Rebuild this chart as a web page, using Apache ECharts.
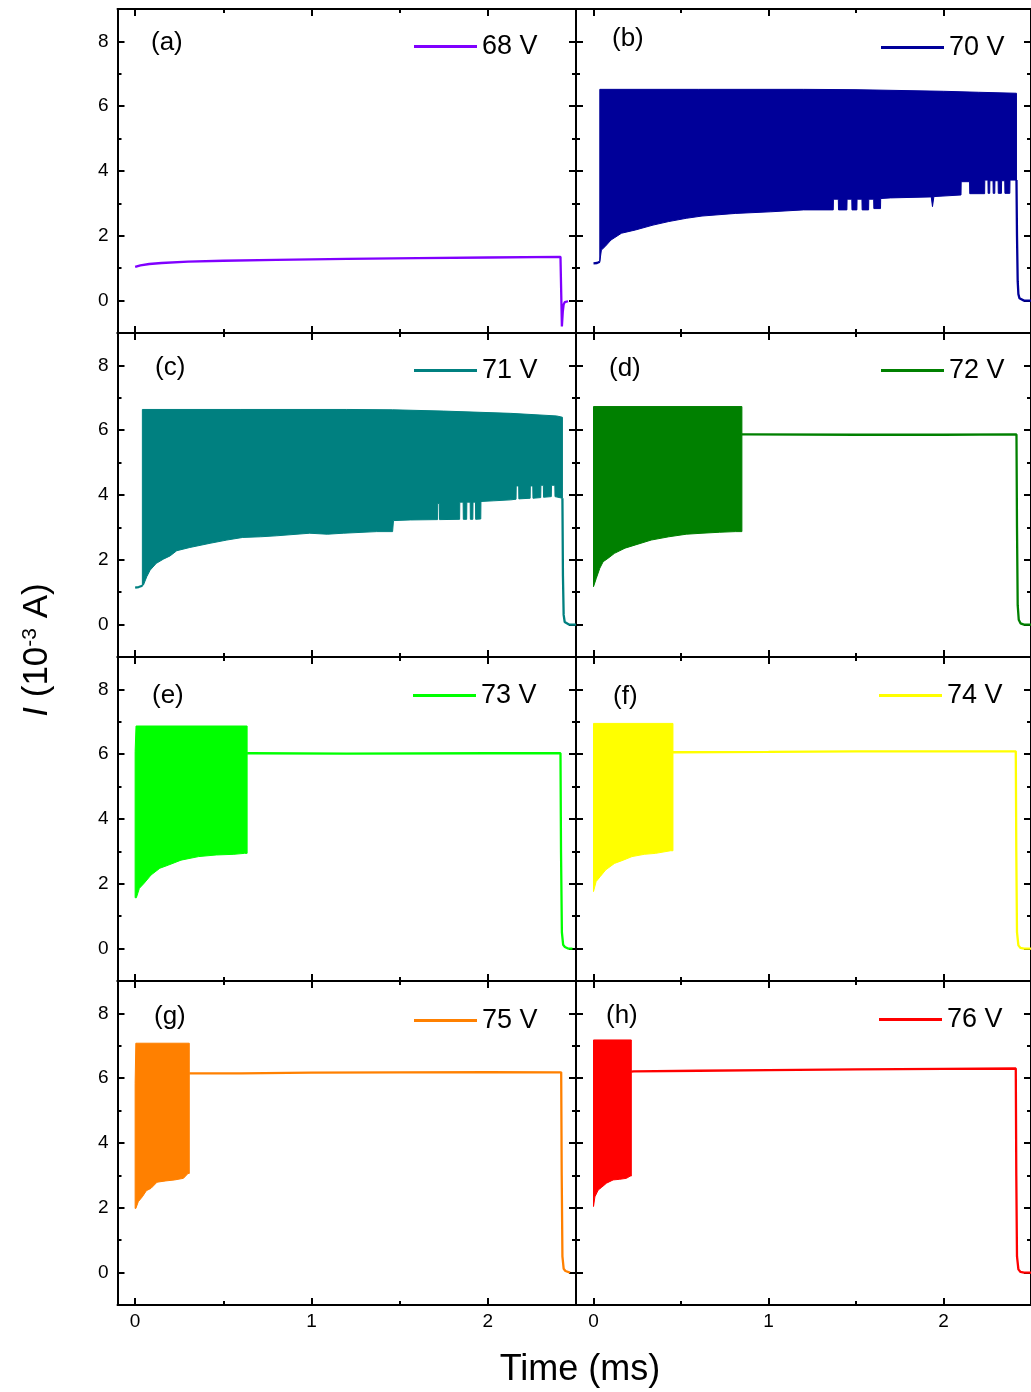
<!DOCTYPE html>
<html>
<head>
<meta charset="utf-8">
<script src="https://cdn.jsdelivr.net/npm/echarts@6/dist/echarts.min.js"></script>
<style>
  html, body { margin: 0; padding: 0; background: #fff; }
  #chart { width: 1031px; height: 1392px; }
</style>
</head>
<body>
<div id="chart"></div>
<script>
// ---------- axis ticks ----------
const xMajorTicks = [0, 1, 2];
const xMinorTicks = [0.5, 1.5];
const yMajorTicks = [0, 2, 4, 6, 8];
const yMinorTicks = [1, 3, 5, 7];

// ---------- panel captions ----------
const panelTags = ['(a)', '(b)', '(c)', '(d)', '(e)', '(f)', '(g)', '(h)'];
const voltages = ['68 V', '70 V', '71 V', '72 V', '73 V', '74 V', '75 V', '76 V'];

// ---------- (a) 68 V : single current trace (time in ms, current in 1e-3 A) ----------
const tA = [0, 0.03, 0.08, 0.15, 0.3, 0.5, 0.8, 1.2, 1.6, 2.0, 2.412, 2.416, 2.42, 2.425, 2.43, 2.436, 2.445, 2.455];
const iA = [1.04, 1.09, 1.13, 1.16, 1.2, 1.23, 1.26, 1.29, 1.31, 1.33, 1.35, 1.3, -0.8, -0.35, -0.12, -0.05, -0.02, -0.02];

// ---------- (b) 70 V ----------
const tB0 = [0, 0.02, 0.036];
const iB0 = [1.15, 1.16, 1.2];
const tHiB = [0.036, 0.6, 1.2, 1.5, 1.7, 2.0, 2.2, 2.417];
const hiB = [6.52, 6.52, 6.52, 6.51, 6.49, 6.46, 6.43, 6.40];
const tLoB = [0.036, 0.045, 0.065, 0.10, 0.16, 0.24, 0.34, 0.43, 0.53, 0.62, 0.81, 1.01, 1.20, 1.37,
  1.371, 1.399, 1.40, 1.448, 1.449, 1.476, 1.477, 1.505, 1.506, 1.534, 1.535, 1.572, 1.573, 1.601,
  1.602, 1.64, 1.641, 1.697, 1.93, 1.937, 1.945, 2.10, 2.101, 2.149, 2.15, 2.235, 2.236, 2.254,
  2.255, 2.264, 2.265, 2.283, 2.284, 2.293, 2.294, 2.312, 2.313, 2.331, 2.332, 2.35, 2.351, 2.379,
  2.38, 2.417];
const loB = [1.2, 1.56, 1.66, 1.87, 2.08, 2.18, 2.33, 2.44, 2.54, 2.61, 2.69, 2.74, 2.80, 2.80,
  3.13, 3.13, 2.80, 2.80, 3.13, 3.13, 2.80, 2.80, 3.13, 3.13, 2.80, 2.80, 3.13, 3.13,
  2.84, 2.84, 3.15, 3.17, 3.2, 2.9, 3.21, 3.26, 3.67, 3.67, 3.30, 3.30, 3.72, 3.72,
  3.31, 3.31, 3.7, 3.7, 3.31, 3.31, 3.7, 3.7, 3.31, 3.31, 3.7, 3.7, 3.31, 3.31,
  3.72, 3.72];
const tB1 = [2.417, 2.42, 2.424, 2.428, 2.434, 2.442, 2.46, 2.5];
const iB1 = [3.72, 2.0, 0.6, 0.2, 0.07, 0.02, 0.0, 0.0];

// ---------- (c) 71 V ----------
const tC0 = [0, 0.02, 0.041];
const iC0 = [1.14, 1.16, 1.2];
const tHiC = [0.041, 0.6, 1.2, 1.46, 1.75, 2.13, 2.39, 2.423];
const hiC = [6.64, 6.64, 6.64, 6.63, 6.59, 6.52, 6.44, 6.40];
const tLoC = [0.041, 0.047, 0.066, 0.085, 0.12, 0.16, 0.198, 0.236, 0.31, 0.425, 0.52, 0.61, 0.71, 0.80,
  0.99, 1.09, 1.18, 1.37, 1.46, 1.465, 1.56, 1.715, 1.716, 1.725, 1.726, 1.84, 1.841, 1.86, 1.861,
  1.88, 1.881, 1.90, 1.901, 1.915, 1.916, 1.93, 1.931, 1.96, 1.961, 2.03, 2.13, 2.16, 2.161, 2.175,
  2.176, 2.24, 2.241, 2.255, 2.256, 2.30, 2.301, 2.315, 2.316, 2.36, 2.361, 2.38, 2.381, 2.423];
const loC = [1.2, 1.22, 1.48, 1.68, 1.89, 2.02, 2.12, 2.28, 2.38, 2.51, 2.61, 2.69, 2.71, 2.74,
  2.82, 2.79, 2.82, 2.87, 2.87, 3.21, 3.23, 3.24, 3.74, 3.74, 3.24, 3.25, 3.78, 3.78, 3.25,
  3.25, 3.78, 3.78, 3.25, 3.25, 3.78, 3.78, 3.25, 3.26, 3.8, 3.82, 3.85, 3.87, 4.28, 4.28,
  3.88, 3.9, 4.28, 4.28, 3.9, 3.92, 4.3, 4.3, 3.93, 3.95, 4.3, 4.3, 3.95, 3.9];
const tC1 = [2.423, 2.426, 2.43, 2.436, 2.445, 2.46, 2.5];
const iC1 = [3.9, 1.5, 0.3, 0.08, 0.02, 0.0, 0.0];

// ---------- (d) 72 V ----------
const tHiD = [0, 0.848];
const hiD = [6.73, 6.73];
const tLoD = [0, 0.016, 0.036, 0.055, 0.084, 0.12, 0.18, 0.24, 0.33, 0.43, 0.53, 0.62, 0.72, 0.81, 0.848];
const loD = [1.17, 1.43, 1.74, 1.94, 2.05, 2.2, 2.36, 2.46, 2.61, 2.71, 2.79, 2.82, 2.85, 2.87, 2.87];
const tD1 = [0.848, 0.87, 1.5, 2.0, 2.417, 2.42, 2.424, 2.43, 2.44, 2.46, 2.5];
const iD1 = [5.87, 5.87, 5.86, 5.86, 5.87, 3.0, 0.6, 0.15, 0.04, 0.0, 0.0];

// ---------- (e) 73 V ----------
const tHiE = [0, 0.005, 0.635];
const hiE = [6.08, 6.87, 6.87];
const tLoE = [0, 0.007, 0.024, 0.05, 0.09, 0.14, 0.19, 0.26, 0.36, 0.46, 0.56, 0.62, 0.635];
const loE = [1.57, 1.57, 1.86, 2.01, 2.27, 2.48, 2.58, 2.73, 2.84, 2.89, 2.91, 2.94, 2.94];
const tE1 = [0.635, 0.66, 1.2, 2.0, 2.412, 2.415, 2.42, 2.427, 2.437, 2.455, 2.48];
const iE1 = [6.03, 6.03, 6.02, 6.03, 6.03, 3.0, 0.5, 0.12, 0.05, 0.0, 0.0];

// ---------- (f) 74 V ----------
const tHiF = [0, 0.454];
const hiF = [6.95, 6.95];
const tLoF = [0, 0.015, 0.038, 0.07, 0.12, 0.17, 0.22, 0.29, 0.355, 0.44, 0.454];
const loF = [1.76, 2.07, 2.22, 2.43, 2.63, 2.73, 2.84, 2.91, 2.94, 3.02, 3.02];
const tF1 = [0.454, 0.47, 1.0, 1.5, 2.0, 2.413, 2.416, 2.42, 2.428, 2.44, 2.46, 2.5];
const iF1 = [6.06, 6.06, 6.07, 6.09, 6.09, 6.09, 3.0, 0.5, 0.1, 0.02, 0.0, 0.0];

// ---------- (g) 75 V ----------
const tHiG = [0, 0.004, 0.307];
const hiG = [5.84, 7.08, 7.08];
const tLoG = [0, 0.004, 0.018, 0.041, 0.064, 0.09, 0.124, 0.174, 0.224, 0.274, 0.30, 0.307];
const loG = [1.98, 1.98, 2.19, 2.34, 2.53, 2.6, 2.79, 2.83, 2.86, 2.91, 3.06, 3.06];
const tG1 = [0.307, 0.33, 0.6, 1.0, 1.5, 2.0, 2.416, 2.419, 2.423, 2.43, 2.44, 2.466];
const iG1 = [6.15, 6.15, 6.15, 6.17, 6.18, 6.19, 6.18, 3.0, 0.5, 0.12, 0.05, 0.0];

// ---------- (h) 76 V ----------
const tHiH = [0, 0.216];
const hiH = [7.18, 7.18];
const tLoH = [0, 0.008, 0.027, 0.046, 0.074, 0.112, 0.15, 0.188, 0.21, 0.216];
const loH = [2.04, 2.34, 2.55, 2.63, 2.76, 2.86, 2.88, 2.91, 2.98, 2.98];
const tH1 = [0.216, 0.23, 0.6, 1.0, 1.5, 2.0, 2.413, 2.416, 2.42, 2.428, 2.44, 2.46, 2.5];
const iH1 = [6.2, 6.21, 6.23, 6.25, 6.27, 6.29, 6.3, 3.0, 0.5, 0.1, 0.02, 0.0, 0.0];

// ---------- styling / layout ----------
const FONT = '"Liberation Sans", Arial, Helvetica, sans-serif';
const traceColors = ['#8000ff', '#000099', '#008080', '#008000', '#00ff00', '#ffff00', '#ff8000', '#ff0000'];
const X_MIN = -0.1, X_MAX = 2.5, Y_MIN = -1, Y_MAX = 9;
const colLeft = [117.5, 576];
const rowTop = [9, 333, 657, 981];
const panelW = 458.5, panelH = 324;
const tagPos = [[151, 30], [612, 26], [155, 355], [609, 356], [152, 683], [613, 684], [154, 1004], [606, 1003]];
const legendPos = [[414, 33], [881, 34], [414, 357], [881, 357], [413, 682], [879, 682], [414, 1007], [879, 1006]];

const panels = [
  { traces: [[tA, iA]], band: null },
  { traces: [[tB0, iB0], [tB1, iB1]], band: [tHiB, hiB, tLoB, loB] },
  { traces: [[tC0, iC0], [tC1, iC1]], band: [tHiC, hiC, tLoC, loC] },
  { traces: [[tD1, iD1]], band: [tHiD, hiD, tLoD, loD] },
  { traces: [[tE1, iE1]], band: [tHiE, hiE, tLoE, loE] },
  { traces: [[tF1, iF1]], band: [tHiF, hiF, tLoF, loF] },
  { traces: [[tG1, iG1]], band: [tHiG, hiG, tLoG, loG] },
  { traces: [[tH1, iH1]], band: [tHiH, hiH, tLoH, loH] }
];

const zip = (t, v) => t.map((x, i) => [x, v[i]]);
const axisLine = { show: true, onZero: false, lineStyle: { color: '#000', width: 2 } };
const noLine = { show: false, onZero: false };
const tickStyle = { color: '#000', width: 2 };
const labelStyle = { color: '#000', fontSize: 19, fontFamily: FONT };

const grids = [], xAxes = [], yAxes = [], series = [], titles = [], legends = [];

panels.forEach((p, k) => {
  const row = Math.floor(k / 2), col = k % 2;
  const color = traceColors[k];
  grids.push({ left: colLeft[col], top: rowTop[row], width: panelW, height: panelH });

  const xBase = { type: 'value', gridIndex: k, min: X_MIN, max: X_MAX, splitLine: { show: false } };
  const yBase = { type: 'value', gridIndex: k, min: Y_MIN, max: Y_MAX, splitLine: { show: false } };

  // bottom and top time axes: major ticks (with labels on the last row) + short minor ticks
  xAxes.push(Object.assign({}, xBase, {
    position: 'bottom', axisLine,
    axisTick: { show: true, inside: true, length: 7, lineStyle: tickStyle, customValues: xMajorTicks },
    axisLabel: Object.assign({ show: row === 3, margin: 7, customValues: xMajorTicks }, labelStyle)
  }));
  xAxes.push(Object.assign({}, xBase, {
    position: 'bottom', axisLine: noLine,
    axisTick: { show: true, inside: true, length: 4, lineStyle: tickStyle, customValues: xMinorTicks },
    axisLabel: { show: false }
  }));
  xAxes.push(Object.assign({}, xBase, {
    position: 'top', axisLine,
    axisTick: { show: true, inside: true, length: 7, lineStyle: tickStyle, customValues: xMajorTicks },
    axisLabel: { show: false }
  }));
  xAxes.push(Object.assign({}, xBase, {
    position: 'top', axisLine: noLine,
    axisTick: { show: true, inside: true, length: 4, lineStyle: tickStyle, customValues: xMinorTicks },
    axisLabel: { show: false }
  }));

  // left and right current axes
  yAxes.push(Object.assign({}, yBase, {
    position: 'left', axisLine,
    axisTick: { show: true, inside: true, length: 7, lineStyle: tickStyle, customValues: yMajorTicks },
    axisLabel: Object.assign({ show: col === 0, margin: 9, customValues: yMajorTicks }, labelStyle)
  }));
  yAxes.push(Object.assign({}, yBase, {
    position: 'left', axisLine: noLine,
    axisTick: { show: true, inside: true, length: 4, lineStyle: tickStyle, customValues: yMinorTicks },
    axisLabel: { show: false }
  }));
  yAxes.push(Object.assign({}, yBase, {
    position: 'right', axisLine,
    axisTick: { show: true, inside: true, length: 7, lineStyle: tickStyle, customValues: yMajorTicks },
    axisLabel: { show: false }
  }));
  yAxes.push(Object.assign({}, yBase, {
    position: 'right', axisLine: noLine,
    axisTick: { show: true, inside: true, length: 4, lineStyle: tickStyle, customValues: yMinorTicks },
    axisLabel: { show: false }
  }));

  // oscillating section: filled envelope between upper and lower extremes
  if (p.band) {
    const [tHi, hi, tLo, lo] = p.band;
    const outline = zip(tHi, hi).concat(zip(tLo, lo).reverse());
    series.push({
      type: 'custom', name: voltages[k] + ' envelope',
      xAxisIndex: 4 * k, yAxisIndex: 4 * k,
      data: outline, encode: { x: 0, y: 1 }, silent: true,
      renderItem: (params, api) => {
        if (params.dataIndex !== 0) return null;
        return {
          type: 'polygon',
          shape: { points: outline.map(pt => api.coord(pt)) },
          style: { fill: color, stroke: color, lineWidth: 1 }
        };
      }
    });
  }

  // steady parts of the trace
  p.traces.forEach(([t, v]) => {
    series.push({
      type: 'line', name: voltages[k],
      xAxisIndex: 4 * k, yAxisIndex: 4 * k,
      data: zip(t, v), symbol: 'none', silent: true,
      lineStyle: { color, width: 2.3 }, itemStyle: { color }
    });
  });

  titles.push({
    text: panelTags[k], left: tagPos[k][0], top: tagPos[k][1], padding: 0,
    textStyle: { fontSize: 26, fontWeight: 'normal', fontFamily: FONT, color: '#000' }
  });
  legends.push({
    data: [{ name: voltages[k], icon: 'rect' }],
    left: legendPos[k][0], top: legendPos[k][1], padding: 0,
    itemWidth: 63, itemHeight: 3, selectedMode: false,
    textStyle: { fontSize: 27, fontFamily: FONT, color: '#000' }
  });
});

const chart = echarts.init(document.getElementById('chart'), null, { renderer: 'canvas' });
chart.setOption({
  animation: false,
  backgroundColor: '#fff',
  title: titles,
  legend: legends,
  grid: grids,
  xAxis: xAxes,
  yAxis: yAxes,
  series: series,
  graphic: [
    {
      type: 'text', x: 580, y: 1370,
      style: { text: 'Time (ms)', fontSize: 36, fontFamily: FONT, fill: '#000', align: 'center', verticalAlign: 'middle' }
    },
    {
      type: 'text', x: 37, y: 650, rotation: Math.PI / 2,
      style: {
        text: '{i|I} (10{s|-3} A)', fontSize: 35, fontFamily: FONT, fill: '#000',
        align: 'center', verticalAlign: 'middle',
        rich: {
          i: { fontSize: 35, fontStyle: 'italic', fontFamily: FONT },
          s: { fontSize: 21, fontFamily: FONT, verticalAlign: 'top' }
        }
      }
    }
  ]
});
</script>
</body>
</html>
